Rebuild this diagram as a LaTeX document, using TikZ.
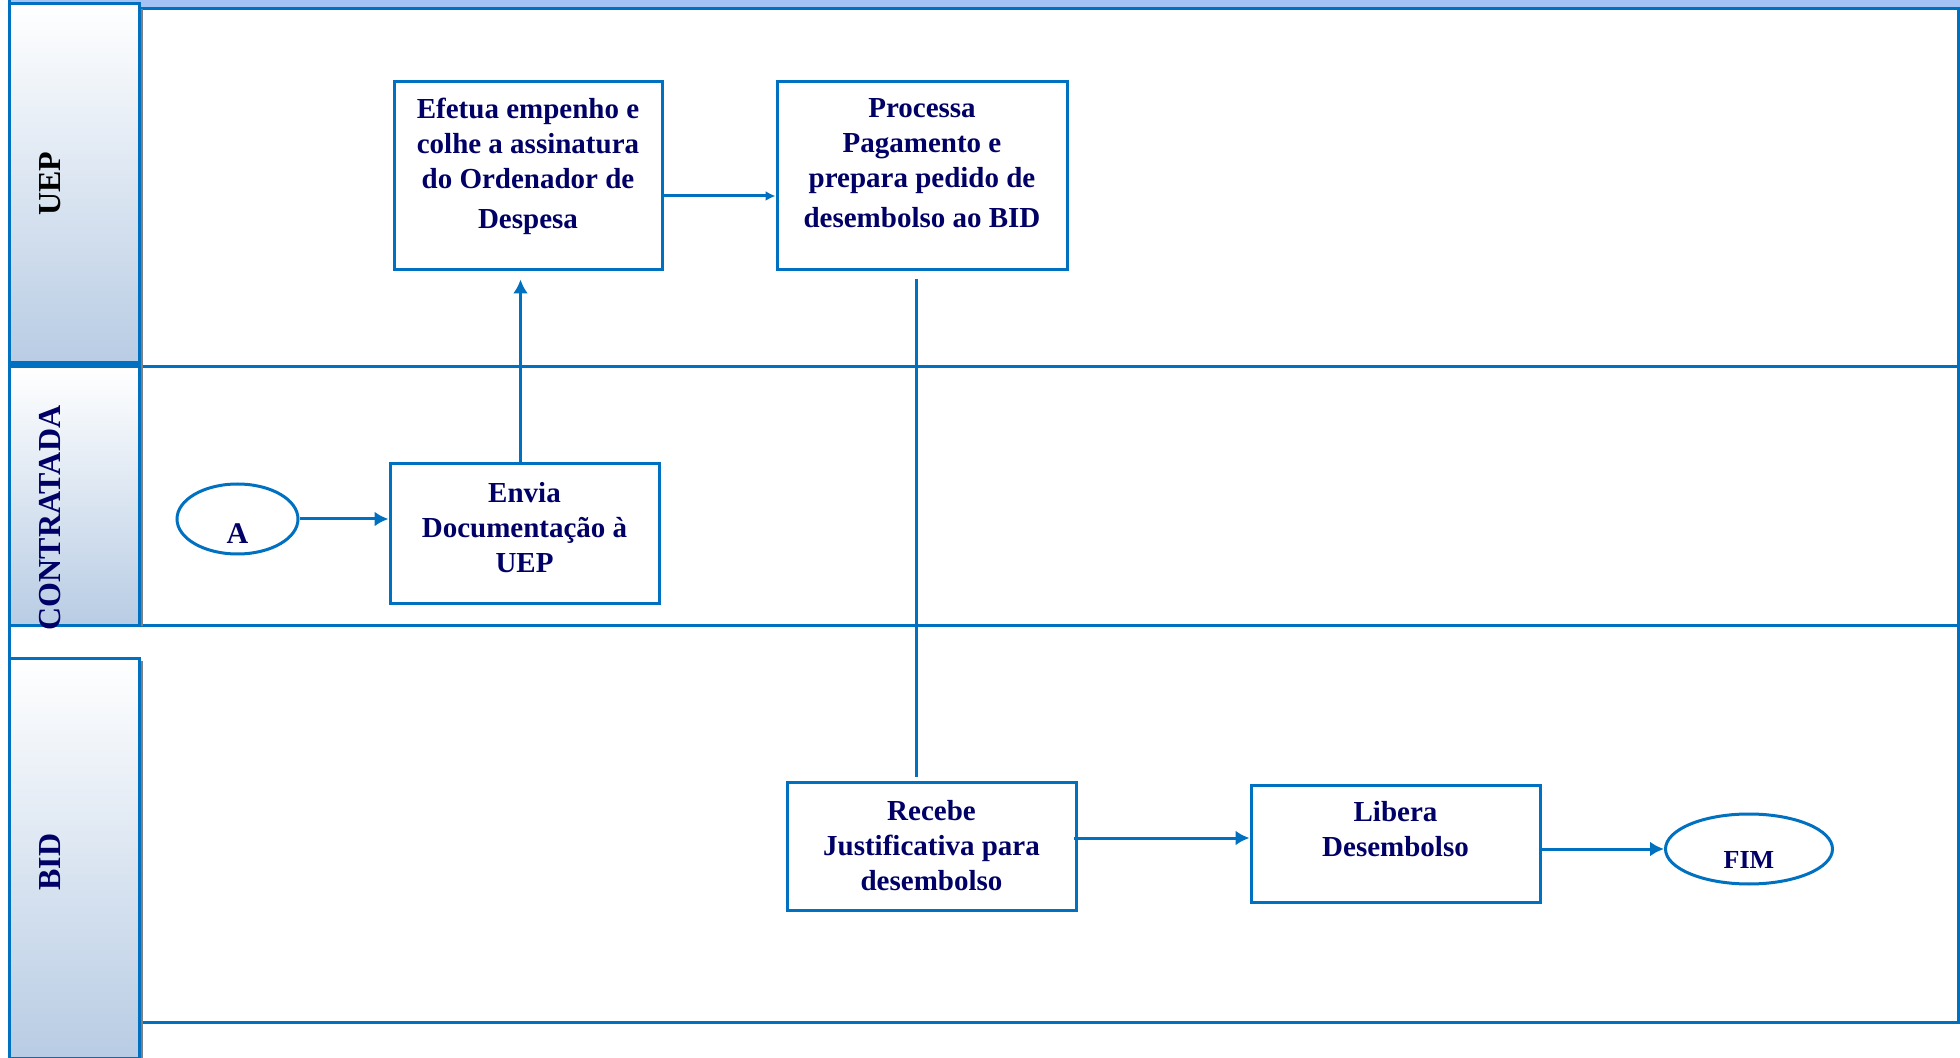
\documentclass[tikz,border=0pt]{standalone}
\usepackage{fontspec}
\setmainfont{Liberation Serif}
\usetikzlibrary{arrows.meta,shapes.geometric}
\definecolor{lane}{RGB}{0,112,192}
\definecolor{navy}{RGB}{0,0,102}
\definecolor{hdr}{RGB}{184,204,228}
\definecolor{topbar}{RGB}{164,194,244}
\tikzset{>={Latex[length=7pt,width=7.5pt]}}

\begin{document}
\begin{tikzpicture}[x=0.5pt,y=-0.5pt,
    line/.style={draw=lane,line width=1.5pt},
    box/.style={line,fill=white,align=center,text=navy,inner sep=2pt,
        font=\bfseries\fontsize{14.5}{17.5}\selectfont},
    term/.style={line,ellipse,fill=white,inner sep=0pt},
    head/.style={line,top color=white,bottom color=hdr},
    lanename/.style={rotate=90,text=navy,font=\bfseries\fontsize{16}{18}\selectfont}]

        \useasboundingbox (0,0) rectangle (1960,1058);

        % lanes
        \fill[topbar] (8,0) rectangle (1960,9);
        \draw[line] (139,9) -- (1958,9) -- (1958,1022) -- (139,1022);
        \draw[line] (9,367) -- (1958,367);
        \draw[line] (9,626) -- (1958,626);
        \draw[line] (9,0) -- (9,1058);
        \shadedraw[head] (9,4) rectangle (139,364);
        \shadedraw[head] (9,367) rectangle (139,626);
        \shadedraw[head] (9,659) rectangle (139,1058);
        \draw[gray,line width=1pt] (141.5,9) -- (141.5,626) (141.5,661) -- (141.5,1058);
        \draw[line,line width=2.5pt] (9,364) -- (139,364);

        \node[lanename,text=black] (uep) at (50,184) {UEP};
        \node[lanename] (contratada) at (50,518) {CONTRATADA};
        \node[lanename] (bid) at (50,862) {BID};

        % nodes
        \node[box,minimum width=134pt,minimum height=94pt,text depth=13pt] (efetua) at (528,176)
            {Efetua empenho e\\colhe a assinatura\\do Ordenador de\\[2.5pt]Despesa};
        \node[box,minimum width=145pt,minimum height=94pt,text depth=13pt] (processa) at (922,176)
            {Processa\\Pagamento e\\prepara pedido de\\[2.5pt]desembolso ao BID};
        \node[term,minimum width=60.5pt,minimum height=35pt,
            label={[yshift=-7.5pt,text=navy,font=\bfseries\fontsize{15}{17}\selectfont]center:A}] (A) at (237.5,519) {};
        \node[box,minimum width=134.5pt,minimum height=70pt,text depth=7pt] (envia) at (524.5,534)
            {Envia\\Documentação à\\UEP};
        \node[box,minimum width=144.5pt,minimum height=64pt] (recebe) at (931.5,846)
            {Recebe\\Justificativa para\\desembolso};
        \node[box,minimum width=144.5pt,minimum height=58.5pt,text depth=15pt] (libera) at (1395.5,843.5)
            {Libera\\Desembolso};
        \node[term,minimum width=83.5pt,minimum height=35pt,
            label={[yshift=-5.5pt,text=navy,font=\bfseries\fontsize{13}{15}\selectfont]center:FIM}] (fim) at (1749,849) {};

        % arrows
        \draw[line,->] (A.east) -- (A.east -| envia.west);
        \draw[line,->] ([xshift=-2pt]envia.north) -- ([xshift=-2pt,yshift=-4pt]envia.north |- efetua.south);
        \draw[line,-{Latex[length=5pt,width=5pt]}] ([yshift=-10pt]efetua.east) -- ([yshift=-10pt]efetua.east -| processa.west);
        \draw[line] ([yshift=-4pt,xshift=-3pt]processa.south) -- ([xshift=-3pt,yshift=2pt]processa.south |- recebe.north);
        \draw[line,->] ([yshift=4pt,xshift=-2pt]recebe.east) -- ([yshift=4pt]recebe.east -| libera.west);
        \draw[line,->] (libera.east |- fim.west) -- (fim.west);

    \end{tikzpicture}
\end{document}
